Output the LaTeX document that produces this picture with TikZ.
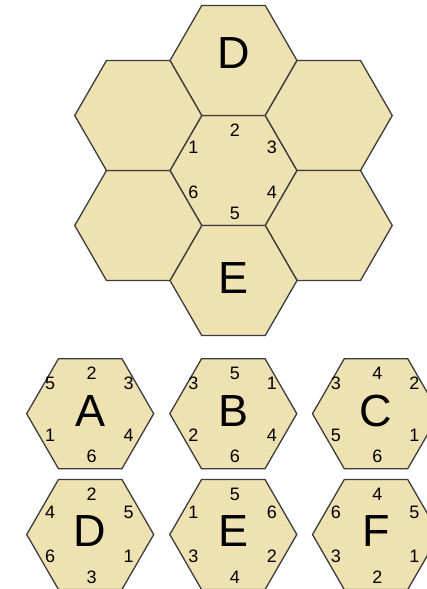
\documentclass[tikz,border=0pt]{standalone}
\usepackage{fontspec}
\setmainfont{Liberation Sans}
\usetikzlibrary{shapes.geometric}

\definecolor{hexfill}{HTML}{EFE2B2}
\definecolor{hexline}{HTML}{3C3C3C}

% #1 hex, #2 height of the upper side numbers, then top, upper right,
% lower right, bottom, lower left, upper left
\newcommand{\hexnums}[8]{%
  \path (#1) ++(1.5,-40) node[num] (#1-t) {#3}
        (#1) ++(38.5,#2) node[num] (#1-ur) {#4}
        (#1) ++(38.5,21.5) node[num] (#1-lr) {#5}
        (#1) ++(1.5,43) node[num] (#1-b) {#6}
        (#1) ++(-40,21.5) node[num] (#1-ll) {#7}
        (#1) ++(-40,#2) node[num] (#1-ul) {#8};}

\begin{document}
\begin{tikzpicture}[x=1pt,y=-1pt,
  hexcell/.style={regular polygon, regular polygon sides=6, minimum size=127pt,
    inner sep=0pt, outer sep=0pt, draw=hexline, fill=hexfill, line width=1.3pt},
  num/.style={font=\fontsize{18}{18}\selectfont, inner sep=0pt},
  letter/.style={font=\fontsize{45}{45}\selectfont, inner sep=0pt}]
  \useasboundingbox (0,0) rectangle (427,589);

  % the cluster
  \node[hexcell] (mid) at (233.5,170.5) {};
  \foreach \a/\n in {270/topD,330/upR,30/lowR,90/botE,150/lowL,210/upL}
    \path (mid) ++(\a:110) node[hexcell] (\n) {};
  \node[letter] (Dbig) at ([yshift=7pt]topD) {D};
  \node[letter] (Ebig) at ([yshift=2pt]botE) {E};
  \hexnums{mid}{-23}{2}{3}{4}{5}{6}{1}

  % the six tiles
  \node[hexcell] (tA) at (90.2,413.7) {};
  \node[hexcell] (tB) at (233.3,413.7) {};
  \node[hexcell] (tC) at (376,413.7) {};
  \node[hexcell] (tD) at (90.2,534.5) {};
  \node[hexcell] (tE) at (233.3,534.5) {};
  \node[hexcell] (tF) at (376,534.5) {};
  \foreach \t in {A,B,C,D,E,F}
    \node[letter] (l\t) at ([yshift=3pt]t\t) {\t};
  \hexnums{tA}{-30}{2}{3}{4}{6}{1}{5}
  \hexnums{tB}{-30}{5}{1}{4}{6}{2}{3}
  \hexnums{tC}{-30}{4}{2}{1}{6}{5}{3}
  \hexnums{tD}{-22}{2}{5}{1}{3}{6}{4}
  \hexnums{tE}{-22}{5}{6}{2}{4}{3}{1}
  \hexnums{tF}{-22}{4}{5}{1}{2}{3}{6}
\end{tikzpicture}
\end{document}
